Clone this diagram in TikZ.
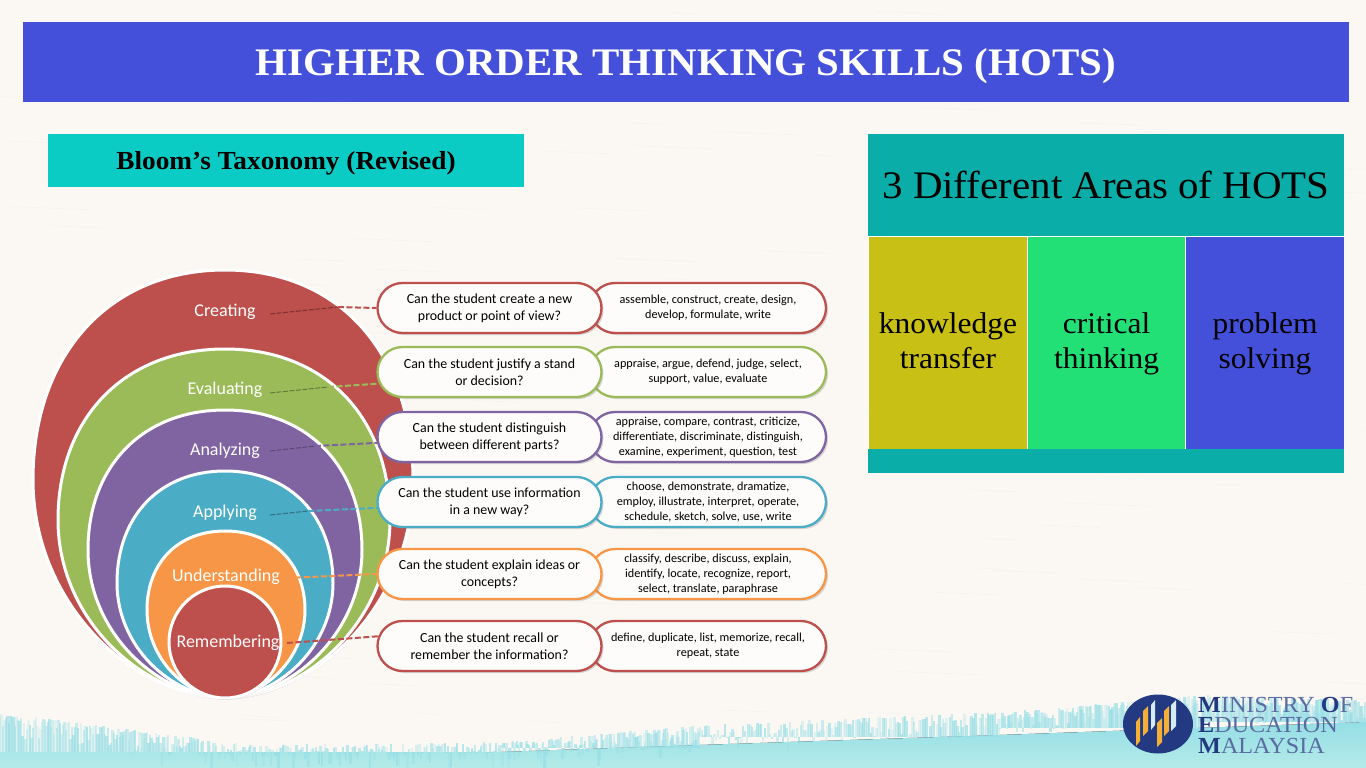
\documentclass[tikz,border=0pt]{standalone}
\usepackage{fontspec}
\setmainfont[FakeStretch=1.05]{Liberation Serif}
\newfontfamily\carlito{Carlito}
\usetikzlibrary{shapes.misc,shadows}
\definecolor{paper}{HTML}{FBF8F4}
\definecolor{titleblue}{HTML}{4450D9}
\definecolor{bloomteal}{HTML}{0ACCC4}
\definecolor{areateal}{HTML}{0AADA8}
\definecolor{areayellow}{HTML}{C8C014}
\definecolor{areagreen}{HTML}{22E076}
\definecolor{eggred}{HTML}{BD4F4C}
\definecolor{egggreen}{HTML}{9BBB59}
\definecolor{eggpurple}{HTML}{8064A2}
\definecolor{eggblue}{HTML}{4BACC6}
\definecolor{eggorange}{HTML}{F79646}
\definecolor{washlight}{HTML}{B4EBE8}
\definecolor{washdark}{HTML}{95DEE6}
\definecolor{logonavy}{HTML}{233A82}
\definecolor{logoorange}{HTML}{F5AE36}
\definecolor{logopale}{HTML}{D5EDF2}
\newcommand{\eggpath}[5]{%
    \path [style=egg, fill=#5] (225, 698) .. controls (#1*0.5+112, 696) and (#1, #4*0.45+384) .. (#1, #4)
        .. controls (#1, #4*0.4+#3*0.6) and (#1*0.6+90, #3) .. (225, #3)
        .. controls (360-#1*0.6, #3) and (#2, #4*0.4+#3*0.6) .. (#2, #4)
        .. controls (#2, #4*0.45+384) and (450-#1*0.5-112, 696) .. (225, 698) -- cycle;}
\newcommand{\arealines}[2]{\rule{0pt}{24pt}#1\\\rule[-9pt]{0pt}{9pt}#2}
\begin{document}
\begin{tikzpicture}[x=1pt, y=-1pt]
    \pgfdeclarelayer{shapelayer}
    \pgfdeclarelayer{edgelayer}
    \pgfdeclarelayer{pilllayer}
    \pgfsetlayers{main,shapelayer,edgelayer,pilllayer}
    \tikzstyle{egg}=[draw=white, line width=3pt, drop shadow={shadow xshift=0.5pt, shadow yshift=-1.5pt, opacity=0.35}]
    \tikzstyle{level}=[text=white, text height=12pt, text depth=4pt, inner sep=0pt, font=\carlito\fontsize{18}{20}\selectfont]
    \tikzstyle{pill}=[shape=rounded rectangle, fill=paper!40!white, line width=2.3pt, minimum height=50pt, align=center, inner sep=0pt,
        drop shadow={shadow xshift=2pt, shadow yshift=-2pt, opacity=0.3}]
    \tikzstyle{question}=[style=pill, minimum width=224pt, font=\carlito\fontsize{13.9}{17}\selectfont]
    \tikzstyle{verbs}=[style=pill, minimum width=236pt, font=\carlito\fontsize{12.2}{15}\selectfont]
    \tikzstyle{link}=[line width=2pt, dash pattern=on 6pt off 2.5pt]
    \tikzstyle{innerlink}=[line width=1pt, dash pattern=on 5pt off 1.5pt]
    \tikzstyle{area}=[minimum width=157.5pt, minimum height=212pt, inner sep=0pt, align=center, text=black,
        font=\fontsize{30}{35}\selectfont]
    \tikzstyle{logoline}=[anchor=west, inner sep=0pt, text=logonavy!75, font=\fontsize{23}{23}\selectfont]

    \useasboundingbox (0, 0) rectangle (1366, 768);
    \fill [paper] (0, 0) rectangle (1366, 768);

    % paper grain, then the watercolour wash along the bottom
    \pgfmathsetseed{7}
    \foreach \i in {1,...,140} {
        \pgfmathsetmacro{\gx}{rnd*1366}
        \pgfmathsetmacro{\gy}{rnd*740}
        \pgfmathsetmacro{\gl}{20+rnd*70}
        \draw [black!8, line width=0.7pt, opacity=0.35, line cap=round] (\gx, \gy) -- (\gx+\gl, \gy+\gl*0.04);
    }
    \fill [top color=washdark, bottom color=washlight] (0, 752) -- (500, 752) -- (700, 745) -- (1000, 735) -- (1366, 722) -- (1366, 768) -- (0, 768) -- cycle;
    \foreach \xa/\ya/\xb/\yb/\base in {0/712/250/745/752, 250/745/500/742/752, 500/742/700/725/748, 700/725/1000/712/737, 1000/712/1200/695/728, 1200/695/1366/700/722}
        \foreach \t in {0,0.006,...,1} {
            \pgfmathsetmacro{\sx}{\xa+\t*(\xb-\xa)}
            \pgfmathsetmacro{\sy}{\ya+\t*(\yb-\ya)+rnd*rnd*34}
            \pgfmathsetmacro{\sop}{0.2+rnd*0.5}
            \draw [washdark, line width=2.5pt, opacity=\sop] (\sx, \sy) -- (\sx, \base);
        }

    \node [fill=titleblue, minimum width=1326pt, minimum height=80pt, inner sep=0pt, text height=27pt, text depth=0pt, text=white, font=\bfseries\fontsize{39}{44}\selectfont] (title) at (686, 62) {HIGHER ORDER THINKING SKILLS (HOTS)};
    \node [fill=bloomteal, minimum width=476pt, minimum height=53pt, inner sep=0pt, text height=17pt, text depth=0pt, text=black, font=\bfseries\fontsize{26}{28}\selectfont] (bloom) at (286, 160.5) {Bloom’s Taxonomy (Revised)};

    % right hand panel
    \fill [white] (868, 134) rectangle (1344, 473);
    \node [fill=areateal, minimum width=476pt, minimum height=102pt, inner sep=0pt, text=black, font=\fontsize{39}{44}\selectfont] (areas) at (1106, 185) {3 Different Areas of HOTS};
    \node [style=area, fill=areayellow] (transfer) at (948, 343) {\arealines{knowledge}{transfer}};
    \node [style=area, fill=areagreen] (critical) at (1106.5, 343) {\arealines{critical}{thinking}};
    \node [style=area, fill=titleblue] (solving) at (1265, 343) {\arealines{problem}{solving}};
    \node [fill=areateal, minimum width=476pt, minimum height=24pt, inner sep=0pt] (areafoot) at (1106, 461) {};

    \begin{pgfonlayer}{shapelayer}
        \eggpath{33}{413}{270}{480}{eggred}
        \eggpath{58}{390}{349}{520}{egggreen}
        \eggpath{88}{362}{410}{550}{eggpurple}
        \eggpath{117}{333}{471}{583}{eggblue}
        \eggpath{147}{305}{531}{610}{eggorange}
        \path [style=egg, fill=eggred] (225, 642) circle (56);
    \end{pgfonlayer}

    \coordinate (createstart) at (270, 314);
    \coordinate (createmid) at (338, 307);
    \coordinate (evalstart) at (270, 393);
    \coordinate (evalmid) at (328, 387);
    \coordinate (analyzestart) at (270, 451);
    \coordinate (analyzemid) at (315, 446);
    \coordinate (applystart) at (270, 515);
    \coordinate (applymid) at (308, 511);
    \coordinate (understandstart) at (287, 578);
    \coordinate (rememberstart) at (287, 643);

    \begin{pgfonlayer}{pilllayer}
        \node [style=level] (creating) at (225, 312) {Creating};
        \node [style=level] (evaluating) at (225, 390) {Evaluating};
        \node [style=level] (analyzing) at (225, 451) {Analyzing};
        \node [style=level] (applying) at (225, 513) {Applying};
        \node [style=level] (understanding) at (226, 577) {Understanding};
        \node [style=level] (remembering) at (228, 643) {Remembering};

        \node [style=verbs, draw=eggred] (createverbs) at (708, 308) {assemble, construct, create, design,\\develop, formulate, write};
        \node [style=verbs, draw=egggreen] (evalverbs) at (708, 372) {appraise, argue, defend, judge, select,\\support, value, evaluate};
        \node [style=verbs, draw=eggpurple] (analyzeverbs) at (708, 437) {appraise, compare, contrast, criticize,\\differentiate, discriminate, distinguish,\\examine, experiment, question, test};
        \node [style=verbs, draw=eggblue] (applyverbs) at (708, 502) {choose, demonstrate, dramatize,\\employ, illustrate, interpret, operate,\\schedule, sketch, solve, use, write};
        \node [style=verbs, draw=eggorange] (understandverbs) at (708, 574) {classify, describe, discuss, explain,\\identify, locate, recognize, report,\\select, translate, paraphrase};
        \node [style=verbs, draw=eggred] (rememberverbs) at (708, 646) {define, duplicate, list, memorize, recall,\\repeat, state};

        \node [style=question, draw=eggred] (createq) at (489.5, 308) {Can the student create a new\\product or point of view?};
        \node [style=question, draw=egggreen] (evalq) at (489.5, 372) {Can the student justify a stand\\or decision?};
        \node [style=question, draw=eggpurple] (analyzeq) at (489.5, 437) {Can the student distinguish\\between different parts?};
        \node [style=question, draw=eggblue] (applyq) at (489.5, 502) {Can the student use information\\in a new way?};
        \node [style=question, draw=eggorange] (understandq) at (489.5, 574) {Can the student explain ideas or\\concepts?};
        \node [style=question, draw=eggred] (rememberq) at (489.5, 646) {Can the student recall or\\remember the information?};
    \end{pgfonlayer}

    \begin{pgfonlayer}{edgelayer}
        \draw [style=innerlink, draw=eggred!65!black] (createstart) -- (createmid);
        \draw [style=link, draw=eggred] (createmid) -- (createq.west);
        \draw [style=innerlink, draw=egggreen!65!black] (evalstart) -- (evalmid);
        \draw [style=link, draw=egggreen] (evalmid) -- (evalq.186);
        \draw [style=innerlink, draw=eggpurple!70!black] (analyzestart) -- (analyzemid);
        \draw [style=link, draw=eggpurple] (analyzemid) -- (analyzeq.183);
        \draw [style=innerlink, draw=eggblue!65!black] (applystart) -- (applymid);
        \draw [style=link, draw=eggblue] (applymid) -- (applyq.183);
        \draw [style=link, draw=eggorange] (understandstart) -- (understandq.west);
        \draw [style=link, draw=eggred] (rememberstart) -- (rememberq.175);
    \end{pgfonlayer}

    % ministry logo
    \fill [logonavy] (1158, 724) ellipse (35 and 29.5);
    \foreach \sx/\sw/\sa/\sb/\col in {1136/4/722/746/logoorange, 1143/5/711/736/logoorange, 1151/4/705/730/logopale,
        1157/5/723/747/logoorange, 1164/5/711/736/logoorange, 1171/5/705/731/logopale}
        \fill [\col] (\sx, \sa) -- (\sx+\sw, \sa-5) -- (\sx+\sw, \sb-5) -- (\sx, \sb) -- cycle;
    \node [style=logoline] (ministry) at (1198, 704.5) {\textbf{\textcolor{logonavy}{M}}INISTRY \textbf{\textcolor{logonavy}{O}}F};
    \node [style=logoline] (education) at (1198, 725) {\textbf{\textcolor{logonavy}{E}}DUCATION};
    \node [style=logoline] (malaysia) at (1198, 745.5) {\textbf{\textcolor{logonavy}{M}}ALAYSIA};
\end{tikzpicture}
\end{document}
